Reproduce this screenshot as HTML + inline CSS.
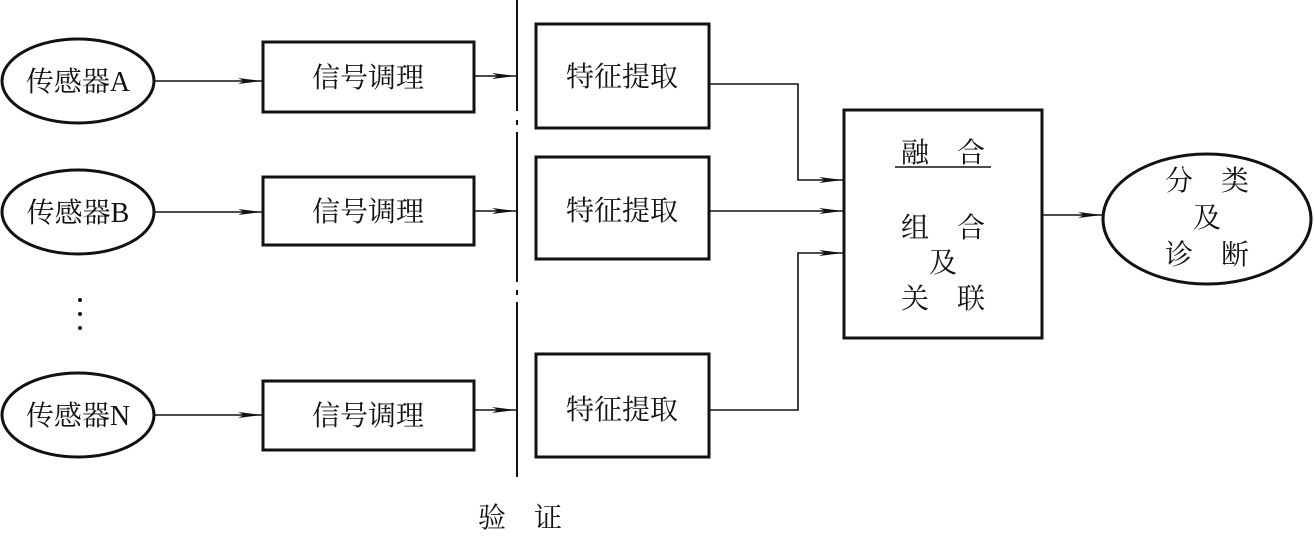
<!DOCTYPE html>
<html><head><meta charset="utf-8"><style>
body{margin:0;background:#fff}
svg text{font-family:"Liberation Serif","Noto Serif CJK SC","Noto Sans CJK SC",serif;fill:#111}
</style></head><body>
<svg width="1314" height="531" viewBox="0 0 1314 531" xmlns="http://www.w3.org/2000/svg">
<defs><marker id="a" markerWidth="26" markerHeight="8" refX="24" refY="4" orient="auto" markerUnits="userSpaceOnUse"><path d="M0,1 L24,4 L0,7 L6,4 Z" fill="#111"/></marker></defs>
<g stroke="#111" fill="none" stroke-width="3">
<ellipse cx="78" cy="81" rx="76" ry="42"/>
<ellipse cx="78" cy="212" rx="76" ry="42"/>
<ellipse cx="78" cy="415" rx="76" ry="42"/>
<rect x="263" y="42" width="211" height="70"/>
<rect x="263" y="177" width="211" height="68"/>
<rect x="263" y="381" width="211" height="69"/>
<rect x="536" y="24" width="173" height="104"/>
<rect x="536" y="157" width="173" height="102"/>
<rect x="536" y="354" width="173" height="103"/>
<rect x="844" y="110" width="198" height="228"/>
<ellipse cx="1207" cy="219" rx="104" ry="65"/>
</g>
<g stroke="#111" stroke-width="2" fill="none">
<path d="M517,0 V111 M517,120 V125 M517,132 V282 M517,290 V295 M517,302 V477"/>
</g>
<g stroke="#111" stroke-width="1.6" fill="none" marker-end="url(#a)">
<path d="M155,81 H262"/><path d="M155,212 H262"/><path d="M155,415 H262"/>
<path d="M474,76 H516"/><path d="M474,211 H516"/><path d="M474,410 H516"/>
<path d="M709,84 H798 V180 H843"/>
<path d="M709,211 H843"/>
<path d="M709,410 H798 V253 H843"/>
<path d="M1042,215 H1102"/>
</g>
<g font-size="28">
<text x="78" y="91" text-anchor="middle">传感器A</text>
<text x="78" y="222" text-anchor="middle">传感器B</text>
<text x="78" y="425" text-anchor="middle">传感器N</text>
<text x="368" y="87" text-anchor="middle">信号调理</text>
<text x="368" y="221" text-anchor="middle">信号调理</text>
<text x="368" y="425" text-anchor="middle">信号调理</text>
<text x="622" y="86" text-anchor="middle">特征提取</text>
<text x="622" y="220" text-anchor="middle">特征提取</text>
<text x="622" y="419" text-anchor="middle">特征提取</text>
<text x="943" y="162" text-anchor="middle">融　合</text>
<text x="943" y="237" text-anchor="middle">组　合</text>
<text x="943" y="272" text-anchor="middle">及</text>
<text x="943" y="308" text-anchor="middle">关　联</text>
<text x="1207" y="190" text-anchor="middle">分　类</text>
<text x="1207" y="227" text-anchor="middle">及</text>
<text x="1207" y="264" text-anchor="middle">诊　断</text>
<text x="520" y="527" text-anchor="middle">验　证</text>
</g>
<line x1="895" y1="167" x2="991" y2="167" stroke="#111" stroke-width="1.5"/>
<g fill="#111"><circle cx="80" cy="300" r="2"/><circle cx="80" cy="314" r="2"/><circle cx="80" cy="328" r="2"/></g>
</svg>
</body></html>
